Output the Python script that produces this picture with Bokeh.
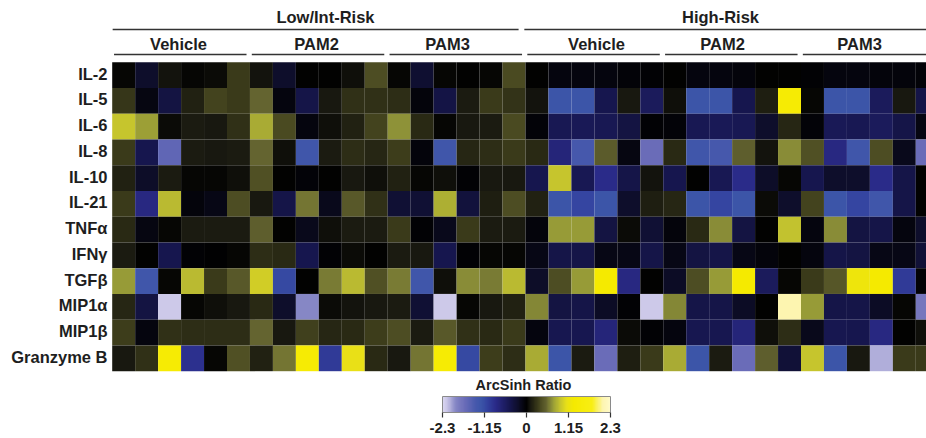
import numpy as np
from bokeh.plotting import figure
from bokeh.models import Range1d, LinearColorMapper, ColumnDataSource
from bokeh.core.properties import value
from bokeh.embed import file_html
from bokeh.resources import INLINE

# ---------------- data ----------------
cytokines = ["IL-2", "IL-5", "IL-6", "IL-8", "IL-10", "IL-21", "TNFα", "IFNγ",
             "TGFβ", "MIP1α", "MIP1β", "Granzyme B"]
risk_groups = ["Low/Int-Risk", "High-Risk"]
treatments = ["Vehicle", "PAM2", "PAM3", "Vehicle", "PAM2", "PAM3"]
n_per_treatment = 6

il2 = [0.02, -0.25, 0.08, 0.03, 0.05, 0.3, 0.08, -0.25, 0, 0, 0.06, 0.4,
       0.02, -0.28, 0.03, 0, 0.03, 0.38, 0, -0.08, -0.08, -0.08, -0.05, -0.02,
       0, -0.08, -0.08, -0.06, 0, 0, -0.03, -0.08, -0.08, -0.06, -0.06, -0.05]
il5 = [0.28, -0.1, -0.38, 0.15, 0.35, 0.3, 0.55, -0.08, -0.42, 0.1, 0.25, 0.25,
       0.22, -0.07, -0.4, 0.12, 0.3, 0.26, 0.08, -1.25, -1.25, -0.45, 0.1, -0.55,
       0.07, -1.25, -1.25, -0.45, 0.13, 1.4, 0.02, -1.25, -1.25, -0.55, 0.1, -0.42]
il6 = [0.92, 0.75, 0.05, 0.12, 0.09, 0.25, 0.8, 0.38, -0.08, 0.07, 0.15, 0.35,
       0.7, 0.2, 0.02, 0.1, 0.11, 0.38, -0.04, -0.5, -0.52, -0.5, -0.38, -0.02,
       -0.04, -0.5, -0.52, -0.5, -0.25, 0.18, -0.04, -0.52, -0.5, -0.55, -0.42, -0.1]
il8 = [0.3, -0.45, -1.6, 0.12, 0.1, 0.12, 0.55, 0.07, -1.3, 0.12, 0.22, 0.18,
       0.32, -0.06, -1.3, 0.18, 0.22, 0.3, 0.2, -0.75, -1.4, 0.5, -0.1, -1.7,
       0.2, -1.3, -1.4, 0.52, 0.08, 0.68, 0.42, -0.8, -1.3, 0.4, -0.15, -1.7]
il10 = [0.15, -0.22, 0.12, 0.02, 0.02, 0.06, 0.42, 0, -0.04, 0.01, 0.1, 0.06,
        0.15, 0.02, 0.07, -0.02, 0.09, 0.09, -0.45, 0.92, -0.5, -0.85, -0.42, 0.08,
        -0.45, 0, -0.5, -0.85, -0.22, 0.02, -0.45, -0.25, -0.25, -0.85, -0.42, 0]
il21 = [0.3, -0.8, 0.88, -0.06, -0.12, 0.4, 0.1, -0.42, 0.6, -0.15, 0.48, 0.24,
        -0.3, -0.3, 0.82, -0.35, 0.13, 0.4, 0.15, -1.25, -1.1, -1.25, -0.25, 0.13,
        0.18, -1.25, -1.1, -1.25, 0.05, -0.25, 0.35, -1.25, -1.1, -1.3, -0.42, 0]
tnfa = [0.2, -0.1, 0.02, 0.12, 0.12, 0.12, 0.52, 0, -0.15, 0.07, 0.12, 0.12,
        0.3, -0.02, -0.15, 0.3, 0.12, 0.12, -0.06, 0.72, 0.72, -0.38, 0.04, -0.3,
        -0.06, 0.2, 0.68, -0.38, 0, 0.9, -0.08, 0.68, -0.38, -0.42, -0.08, -0.25]
ifng = [0.12, 0, -0.45, -0.02, -0.01, 0.02, 0.22, 0.2, -0.45, -0.03, 0.05, 0.01,
        0.12, 0.1, -0.45, -0.03, 0.03, 0.02, -0.12, -0.42, -0.42, -0.12, -0.12, -0.42,
        -0.12, -0.38, -0.42, -0.12, -0.06, 0.01, -0.08, -0.42, -0.38, -0.12, -0.12, -0.32]
tgfb = [0.72, -1.3, 0.02, 0.88, 0.3, 0.48, 0.98, -1.15, 0, 0.62, 0.88, 0.42,
        0.62, -1.3, 0.06, 0.68, 0.62, 0.88, -0.22, 0.4, 0.72, 1.3, -0.8, 0,
        -0.2, 0.4, 0.72, 1.3, -0.55, 0.02, 0.3, 0.45, 1.2, 1.3, -1.0, -0.03]
mip1a = [0.18, -0.38, -2.2, 0.02, 0.06, 0.09, 0.2, -0.25, -1.95, 0.04, 0.08, 0.1,
         0.12, -0.3, -2.2, 0.02, 0.09, 0.15, 0.65, -0.38, -0.42, -0.2, -0.02, -2.2,
         0.65, -0.42, -0.42, -0.2, 0, 2.1, 0.72, -0.42, -0.42, -0.2, 0.02, -1.8]
mip1b = [0.32, -0.08, 0.25, 0.22, 0.22, 0.23, 0.55, 0.1, 0.33, 0.18, 0.2, 0.32,
         0.4, 0.12, 0.48, 0.25, 0.2, 0.3, -0.08, -0.48, -0.48, -0.75, 0.04, -0.03,
         -0.08, -0.48, -0.48, -0.75, 0.07, 0.22, -0.15, -0.48, -0.45, -0.8, 0, 0.07]
granzyme_b = [0.1, 0.25, 1.4, -0.9, 0.02, 0.42, 0.15, 0.6, 1.4, -1.0, 1.1, 0.2,
              0.09, 0.6, 1.4, -1.15, 0.32, 0.23, 0.8, -1.25, 0.12, -1.7, 0.13, 0.3,
              0.8, -1.25, 0.12, -1.7, 0.52, -0.32, 0.92, -1.25, 0.1, -2.1, 0.3, 0.3]

rows = [il2, il5, il6, il8, il10, il21, tnfa, ifng, tgfb, mip1a, mip1b, granzyme_b]
cbar_ticks = [-2.3, -1.15, 0, 1.15, 2.3]
cbar_labels = ["-2.3", "-1.15", "0", "1.15", "2.3"]
cbar_title = "ArcSinh Ratio"

# ---------------- colour scale (style) ----------------
anchors = [(-2.3, (216, 213, 240)), (-2.2, (204, 200, 232)), (-1.95, (132, 133, 196)),
           (-1.7, (106, 108, 184)), (-1.4, (70, 88, 172)), (-1.25, (60, 85, 168)),
           (-1.1, (52, 68, 160)), (-0.85, (42, 42, 136)), (-0.5, (24, 24, 84)),
           (-0.25, (14, 14, 44)), (0.0, (0, 0, 0)), (0.1, (24, 24, 16)),
           (0.2, (40, 40, 20)), (0.3, (58, 58, 26)), (0.4, (76, 76, 34)),
           (0.55, (100, 100, 48)), (0.7, (144, 148, 56)), (0.9, (192, 192, 48)),
           (1.1, (232, 224, 24)), (1.3, (245, 234, 0)), (1.8, (248, 238, 20)),
           (2.1, (253, 245, 176)), (2.3, (255, 250, 200))]
av = np.array([a[0] for a in anchors])
ac = np.array([a[1] for a in anchors], dtype=float)
vv = np.linspace(-2.3, 2.3, 256)
palette = ["#%02x%02x%02x" % tuple(int(round(np.interp(v, av, ac[:, k]))) for k in range(3)) for v in vv]
mapper = LinearColorMapper(palette=palette, low=-2.3, high=2.3)

# ---------------- geometry (page pixels -> data units) ----------------
W, H = 926, 438
col_w, row_h = 22.96, 25.75
x0 = -111.7 / col_w
y0 = -61.7 / row_h


def fx(px):
    return x0 + px / col_w


def fy(py):
    return y0 + py / row_h


p = figure(width=W, height=H, output_backend="svg", toolbar_location=None,
           x_range=Range1d(x0, x0 + W / col_w), y_range=Range1d(y0 + H / row_h, y0),
           x_axis_location=None, y_axis_location=None, min_border=0,
           background_fill_color="white", border_fill_color="white")
p.grid.visible = False
p.outline_line_color = None

xs, ys, vals = [], [], []
for i, r in enumerate(rows):
    for j, v in enumerate(r):
        xs.append(j + 0.5)
        ys.append(i + 0.5)
        vals.append(v)
src = ColumnDataSource(dict(x=xs, y=ys, v=vals))
p.rect(x="x", y="y", width=1.0, height=1.0, source=src,
       fill_color={"field": "v", "transform": mapper}, line_color=None)

FONT = value("Liberation Sans")
TXT = "#1e1e1e"

# row labels
p.text(x=[fx(107)] * len(cytokines), y=[i + 0.44 for i in range(len(cytokines))], text=cytokines,
       text_align="right", text_baseline="middle", text_font=FONT,
       text_font_style="bold", text_font_size="16.5px", text_color=TXT)

# group headers
p.text(x=[fx(325), fx(720)], y=[fy(16)] * 2, text=risk_groups, text_align="center",
       text_baseline="middle", text_font=FONT, text_font_style="bold",
       text_font_size="16.5px", text_color=TXT)
p.segment(x0=[0.02, 17.95], x1=[17.7, 36.0], y0=[fy(29)] * 2, y1=[fy(29)] * 2,
          line_color="#333333", line_width=1.6)

sub_px = [178, 316, 447, 596, 722, 859]
p.text(x=[fx(v) for v in sub_px], y=[fy(43)] * len(treatments), text=treatments, text_align="center",
       text_baseline="middle", text_font=FONT, text_font_style="bold",
       text_font_size="16.5px", text_color=TXT)
g_idx = list(range(len(treatments)))
p.segment(x0=[n_per_treatment * g + 0.08 for g in g_idx],
          x1=[n_per_treatment * g + 5.85 for g in g_idx],
          y0=[fy(54)] * len(g_idx), y1=[fy(54)] * len(g_idx),
          line_color="#333333", line_width=1.6)

# colour bar
bx0, bx1, by0, by1 = 442, 610, 396, 412
xa, xb = fx(bx0), fx(bx1)
ya, yb = fy(by0), fy(by1)
grad = np.linspace(-2.3, 2.3, 400).reshape(1, 400)
p.image(image=[grad], x=xa, y=min(ya, yb), dw=xb - xa, dh=abs(yb - ya), color_mapper=mapper)
p.quad(left=[xa], right=[xb], top=[ya], bottom=[yb], fill_color=None,
       line_color="#8a8a8a", line_width=1)
tick_x = [xa + (t + 2.3) / 4.6 * (xb - xa) for t in cbar_ticks]
p.segment(x0=tick_x, x1=tick_x, y0=[yb] * 5, y1=[fy(by1 + 5)] * 5,
          line_color="#333333", line_width=1.2)
p.text(x=tick_x, y=[fy(427)] * 5, text=cbar_labels, text_align="center",
       text_baseline="middle", text_font=FONT, text_font_style="bold",
       text_font_size="15px", text_color=TXT)
p.text(x=[fx(523)], y=[fy(384)], text=[cbar_title], text_align="center",
       text_baseline="middle", text_font=FONT, text_font_style="bold",
       text_font_size="14.5px", text_color=TXT)

open("out.html", "w").write(file_html(p, INLINE))
